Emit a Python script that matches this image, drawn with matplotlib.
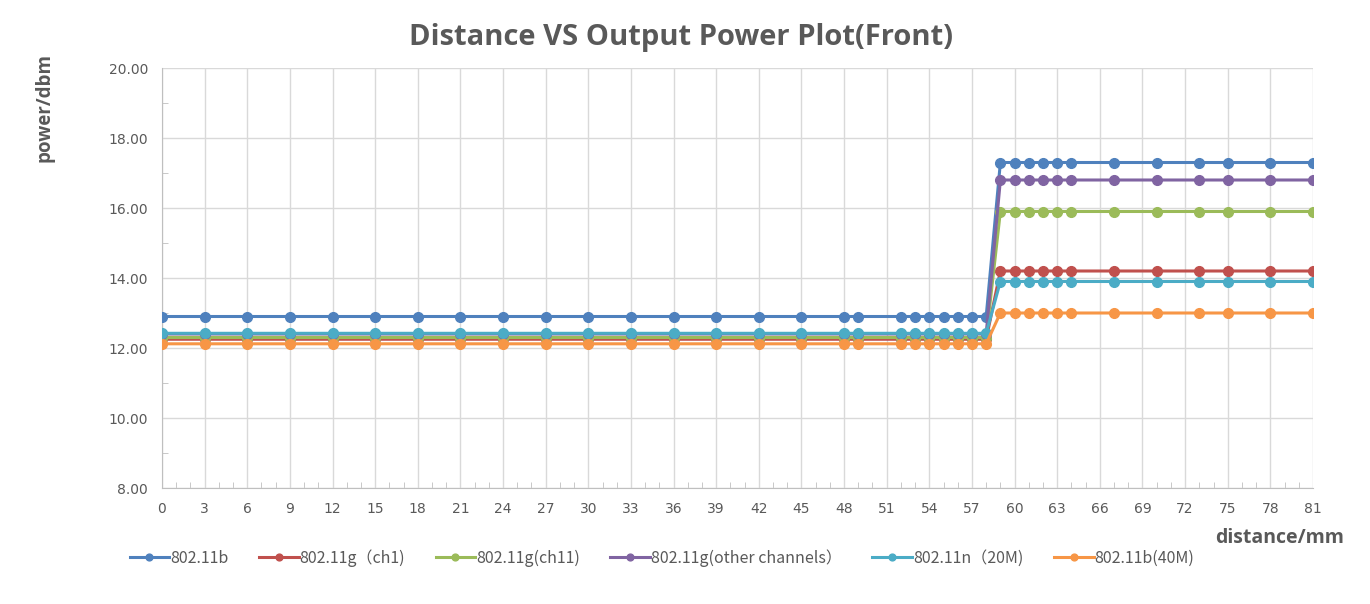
import matplotlib.pyplot as plt
from matplotlib.ticker import MultipleLocator, FormatStrFormatter

# distance points (mm)
distance = list(range(0, 49, 3)) + [49, 52, 53, 54, 55, 56, 57, 58,
                                     59, 60, 61, 62, 63, 64, 67, 70, 73, 75, 78, 81]
n_low = 25   # points up to and including 58 mm
n_high = 12  # points from 59 mm on

labels = ['802.11b', '802.11g（ch1)', '802.11g(ch11)',
          '802.11g(other channels）', '802.11n（20M)', '802.11b(40M)']
low_power = [12.9, 12.25, 12.3, 12.4, 12.42, 12.12]
high_power = [17.3, 14.2, 15.9, 16.8, 13.9, 13.0]
colors = ['#4F81BD', '#C0504D', '#9BBB59', '#8064A2', '#4BACC6', '#F79646']

fig = plt.figure(figsize=(13.7, 6.04), dpi=100)
ax = fig.add_axes([162/1370, 1 - 488/604, 1151/1370, 420/604])

for lab, lo, hi, c in zip(labels, low_power, high_power, colors):
  power = [lo] * n_low + [hi] * n_high
  ax.plot(distance, power, color=c, lw=2.2, marker='o', markersize=7,
          label=lab, zorder=3)

ax.set_xlim(0, 81)
ax.set_ylim(8, 20)
ax.xaxis.set_major_locator(MultipleLocator(3))
ax.xaxis.set_minor_locator(MultipleLocator(1))
ax.yaxis.set_major_locator(MultipleLocator(2))
ax.yaxis.set_minor_locator(MultipleLocator(1))
ax.yaxis.set_major_formatter(FormatStrFormatter('%.2f'))
ax.grid(True, which='major', color='#D9D9D9', lw=1)
ax.set_axisbelow(True)
for s in ['top', 'right']:
  ax.spines[s].set_visible(False)
for s in ['left', 'bottom']:
  ax.spines[s].set_color('#BFBFBF')
ax.tick_params(which='major', length=0, labelsize=10, labelcolor='#595959', pad=10)
ax.tick_params(which='minor', direction='in', length=4, color='#BFBFBF')

fig.text(681/1370, 1 - 38/604, 'Distance VS Output Power Plot(Front)', ha='center', va='center',
         fontsize=21, fontweight='bold', color='#595959', family='Open Sans')
fig.text(45/1370, 1 - 107/604, 'power/dbm', rotation=90, ha='center', va='center',
         fontsize=13.5, fontweight='bold', color='#595959', family='Open Sans')
fig.text(1280/1370, 1 - 538/604, 'distance/mm', ha='center', va='center',
         fontsize=14, fontweight='bold', color='#595959', family='Open Sans')

leg = fig.legend(loc='center', bbox_to_anchor=(662/1370, 1 - 558/604), ncol=6,
                 frameon=False, markerscale=0.7, handlelength=2.5, columnspacing=1.9,
                 handletextpad=0.05, prop={'family': ['Noto Sans CJK SC', 'DejaVu Sans'], 'size': 11.5})
for t in leg.get_texts():
  t.set_color('#595959')

fig.savefig('out.png', dpi=100)
